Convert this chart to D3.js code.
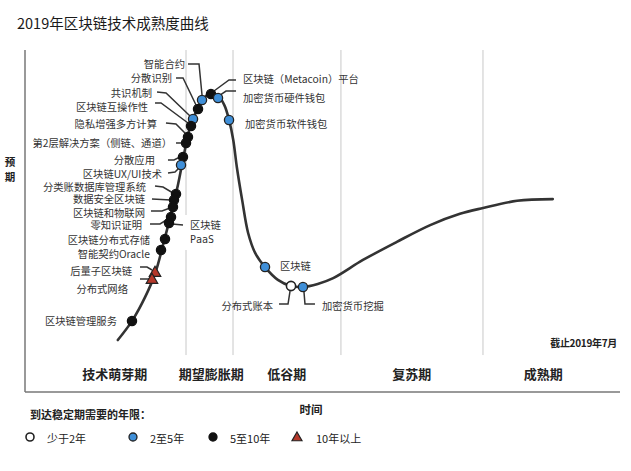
<!DOCTYPE html>
<html><head><meta charset="utf-8">
<script src="https://cdn.jsdelivr.net/npm/d3@7"></script>
<style>
html,body{margin:0;padding:0;background:#fff;}
svg{display:block;font-family:"Noto Sans CJK SC","Noto Sans",sans-serif;}
</style></head>
<body>
<script>
// ---- data ----
const title = "2019年区块链技术成熟度曲线";
const yLabel = "预期";
const xLabel = "时间";
const asOf = "截止2019年7月";
// hype curve (time, expectation) in 0-100 units
const curveT = [15.6,18.0,20.2,21.9,23.2,24.5,25.7,26.7,27.7,28.9,30.1,31.3,32.4,33.5,34.3,35.0,35.6,36.5,37.5,38.7,40.3,42.5,44.7,46.7,49.2,51.8,56.8,62.5,68.1,73.1,77.0,82.7,88.7];
const curveE = [15.2,20.8,27.8,34.8,43.0,51.8,60.5,69.3,77.2,82.5,86.0,87.4,86.6,83.9,79.5,73.7,65.8,56.1,46.5,40.6,36.6,32.8,31.0,30.7,31.6,33.3,38.6,43.9,48.8,52.1,53.8,55.9,56.4];
// phases
const phaseNames = ["技术萌芽期","期望膨胀期","低谷期","复苏期","成熟期"];
const phaseCenters = [15.1,31.3,44.0,65.0,87.1];
const phaseBounds = [27.06,34.96,53.1,76.97];
// technologies
const techNames = ["智能合约","分散识别","共识机制","区块链互操作性","隐私增强多方计算","第2层解决方案（侧链、通道）","分散应用","区块链UX/UI技术","分类账数据库管理系统","数据安全区块链","区块链和物联网","零知识证明","区块链|PaaS","区块链分布式存储","智能契约Oracle","后量子区块链","分布式网络","区块链管理服务","区块链（Metacoin）平台","加密货币硬件钱包","加密货币软件钱包","区块链","分布式账本","加密货币挖掘"];
const techT = [29.75,29.08,28.24,27.9,27.39,27.06,26.55,26.22,25.38,25.04,24.87,24.54,24.2,23.53,22.86,21.85,21.34,17.98,31.26,32.44,34.29,40.34,44.71,46.72];
const techE = [85.38,82.75,79.82,77.78,74.56,72.81,68.71,66.37,57.89,56.14,54.09,51.17,49.42,44.74,41.52,35.09,33.04,20.76,87.13,85.96,79.53,36.55,30.99,30.7];
const techCat = ["2-5","5-10","2-5","5-10","5-10","5-10","5-10","2-5","5-10","5-10","5-10","5-10","5-10","5-10","5-10",">10",">10","5-10","5-10","2-5","2-5","2-5","<2","2-5"];
const legendTitle = "到达稳定期需要的年限：";
const legendKeys = ["<2","2-5","5-10",">10"];
const legendLabels = ["少于2年","2至5年","5至10年","10年以上"];

// ---- layout (pixel offsets from each dot) ----
const labelLayout = [
 {a:"end",tx:-17,ty:-37,l:[[-14,-36],[-3,-36],[0,-5]]},
 {a:"end",tx:-26,ty:-31,l:[[-22,-31],[-15,-31],[-2,-4]]},
 {a:"end",tx:-41,ty:-27,l:[[-36,-27],[-27,-26],[-3,-3]]},
 {a:"end",tx:-43,ty:-19,l:[[-36,-23],[-30,-23],[-3,-3]]},
 {a:"end",tx:-31,ty:-14,l:[[-22,-14],[-12,-13],[-2,-3]]},
 {a:"end",tx:-14,ty:0,l:[[-10,0],[-4,0]]},
 {a:"end",tx:-28,ty:2,l:[[-15,3],[-9,3],[-3,0]]},
 {a:"end",tx:-19,ty:8,l:[[-13,8],[-6,7],[-2,3]]},
 {a:"end",tx:-30,ty:-8,l:[[-21,-8],[-13,-7],[-3,-1]]},
 {a:"end",tx:-29,ty:-2,l:[[-22,-1],[-3,0]]},
 {a:"end",tx:-28,ty:5,l:[[-22,4],[-11,4],[-3,1]]},
 {a:"end",tx:-29,ty:8,l:[[-21,7],[-11,7],[-3,2]]},
 {a:"start",tx:21,ty:2,l:[[14,2],[3,1]],bg:true},
 {a:"end",tx:-15,ty:1,l:null},
 {a:"end",tx:-11,ty:3,l:null},
 {a:"end",tx:-23,ty:-1,l:[[-15,-5],[-8,-5],[-3,-2]]},
 {a:"end",tx:-24,ty:9,l:[[-12,0],[-3,0]]},
 {a:"end",tx:-15,ty:-1,l:null},
 {a:"start",tx:32,ty:-16,l:[[25,-14],[18,-14],[3,-3]]},
 {a:"start",tx:25,ty:-1,l:[[18,-7],[8,-7],[2,-3]]},
 {a:"start",tx:16,ty:3,l:null},
 {a:"start",tx:15,ty:-1,l:null},
 {a:"end",tx:-18,ty:19,l:[[-12,18],[-3,18],[-1,5]]},
 {a:"start",tx:19,ty:18,l:[[1,5],[2,17],[12,17]]}
];

const W = 631, H = 471;
const svg = d3.select("body").append("svg").attr("width",W).attr("height",H);
svg.append("rect").attr("width",W).attr("height",H).attr("fill","#fff");

const x = d3.scaleLinear().domain([0,100]).range([25,620]);
const y = d3.scaleLinear().domain([0,100]).range([392,50]);

// title
svg.append("text").attr("x",17).attr("y",22).attr("dominant-baseline","central")
  .attr("font-size",14.5).attr("fill","#1a1a1a").text(title);

// grid lines (phase boundaries)
svg.selectAll("line.grid").data(phaseBounds).join("line").attr("class","grid")
  .attr("x1",d=>x(d)).attr("x2",d=>x(d)).attr("y1",y(100)).attr("y2",y(10.8))
  .attr("stroke","#c8c8c8").attr("stroke-width",1);

// axes
svg.append("line").attr("x1",x(0)).attr("x2",x(0)).attr("y1",y(100)).attr("y2",y(0))
  .attr("stroke","#777").attr("stroke-width",1.5);
svg.append("line").attr("x1",x(0)).attr("x2",x(100)).attr("y1",y(0)).attr("y2",y(0))
  .attr("stroke","#777").attr("stroke-width",1.5);

// y label vertical
svg.append("text").attr("x",10).attr("y",161).attr("text-anchor","middle").attr("dominant-baseline","central")
  .attr("font-size",10.5).attr("font-weight","bold").attr("fill","#222").text(yLabel[0]);
svg.append("text").attr("x",10).attr("y",176).attr("text-anchor","middle").attr("dominant-baseline","central")
  .attr("font-size",10.5).attr("font-weight","bold").attr("fill","#222").text(yLabel[1]);

// phase labels
svg.selectAll("text.phase").data(phaseNames).join("text").attr("class","phase")
  .attr("x",(d,i)=>x(phaseCenters[i])).attr("y",373).attr("text-anchor","middle").attr("dominant-baseline","central")
  .attr("font-size",13).attr("font-weight","bold").attr("fill","#222").text(d=>d);

svg.append("text").attr("x",617).attr("y",342).attr("text-anchor","end").attr("dominant-baseline","central")
  .attr("font-size",10).attr("font-weight","bold").attr("fill","#222").attr("letter-spacing",-0.3).text(asOf);

svg.append("text").attr("x",311).attr("y",409).attr("text-anchor","middle").attr("dominant-baseline","central")
  .attr("font-size",11.5).attr("font-weight","bold").attr("fill","#222").text(xLabel);

// curve
const pts = curveT.map((t,i)=>[x(t),y(curveE[i])]);
svg.append("path").attr("d",d3.line().curve(d3.curveCatmullRom.alpha(0.5))(pts))
  .attr("fill","none").attr("stroke","#333").attr("stroke-width",2.6).attr("stroke-linecap","round");

// markers
function drawMarker(g, cat, cx, cy, r){
  if(cat===">10"){
    const s=r*1.25;
    g.append("path").attr("d",`M${cx},${cy-s}L${cx+s},${cy+s*0.75}L${cx-s},${cy+s*0.75}Z`)
      .attr("fill","#b5382a").attr("stroke","#222").attr("stroke-width",1.2);
  } else {
    const fill = cat==="<2"?"#fff":cat==="2-5"?"#3f8fd8":"#111";
    g.append("circle").attr("cx",cx).attr("cy",cy).attr("r",r)
      .attr("fill",fill).attr("stroke",cat==="5-10"?"#111":"#222").attr("stroke-width",cat==="<2"?1.6:1.3);
  }
}

const techG = svg.append("g");
const leaderG = techG.append("g");
const dotG = techG.append("g");
const labG = techG.append("g");
techNames.forEach((name,i)=>{
  const cx = x(techT[i]), cy = y(techE[i]);
  const L = labelLayout[i];
  if(L.l){
    leaderG.append("path").attr("d",d3.line()(L.l.map(p=>[cx+p[0],cy+p[1]])))
      .attr("fill","none").attr("stroke","#333").attr("stroke-width",1.5);
  }
  const parts = name.split("|");
  parts.forEach((p,k)=>{
    const t = labG.append("text").attr("x",cx+L.tx).attr("y",cy+L.ty+k*15)
      .attr("text-anchor",L.a).attr("dominant-baseline","central")
      .attr("font-size",10.3).attr("fill","#333").text(p);
    if(k===1) t.attr("font-family","'DejaVu Sans Mono',monospace").attr("font-size",10);
  });
});
// white background behind the PaaS label (covers grid line)
techNames.forEach((name,i)=>{
  const L = labelLayout[i];
  if(L.bg){
    const cx = x(techT[i]), cy = y(techE[i]);
    leaderG.insert("rect",":first-child").attr("x",cx+L.tx-6).attr("y",cy+L.ty-10).attr("width",40).attr("height",35).attr("fill","#fff");
  }
});
techNames.forEach((name,i)=>{
  drawMarker(dotG, techCat[i], x(techT[i]), y(techE[i]), 4.6);
});

// legend
svg.append("text").attr("x",30).attr("y",414).attr("dominant-baseline","central")
  .attr("font-size",11).attr("font-weight","bold").attr("fill","#222").text(legendTitle);
const legX = [30,133,213,297];
const legTX = [47,150,230,316];
legendKeys.forEach((k,i)=>{
  drawMarker(svg, k, legX[i], 437, 4);
  svg.append("text").attr("x",legTX[i]).attr("y",438).attr("dominant-baseline","central")
    .attr("font-size",11).attr("fill","#222").text(legendLabels[i]);
});
</script>
</body></html>
